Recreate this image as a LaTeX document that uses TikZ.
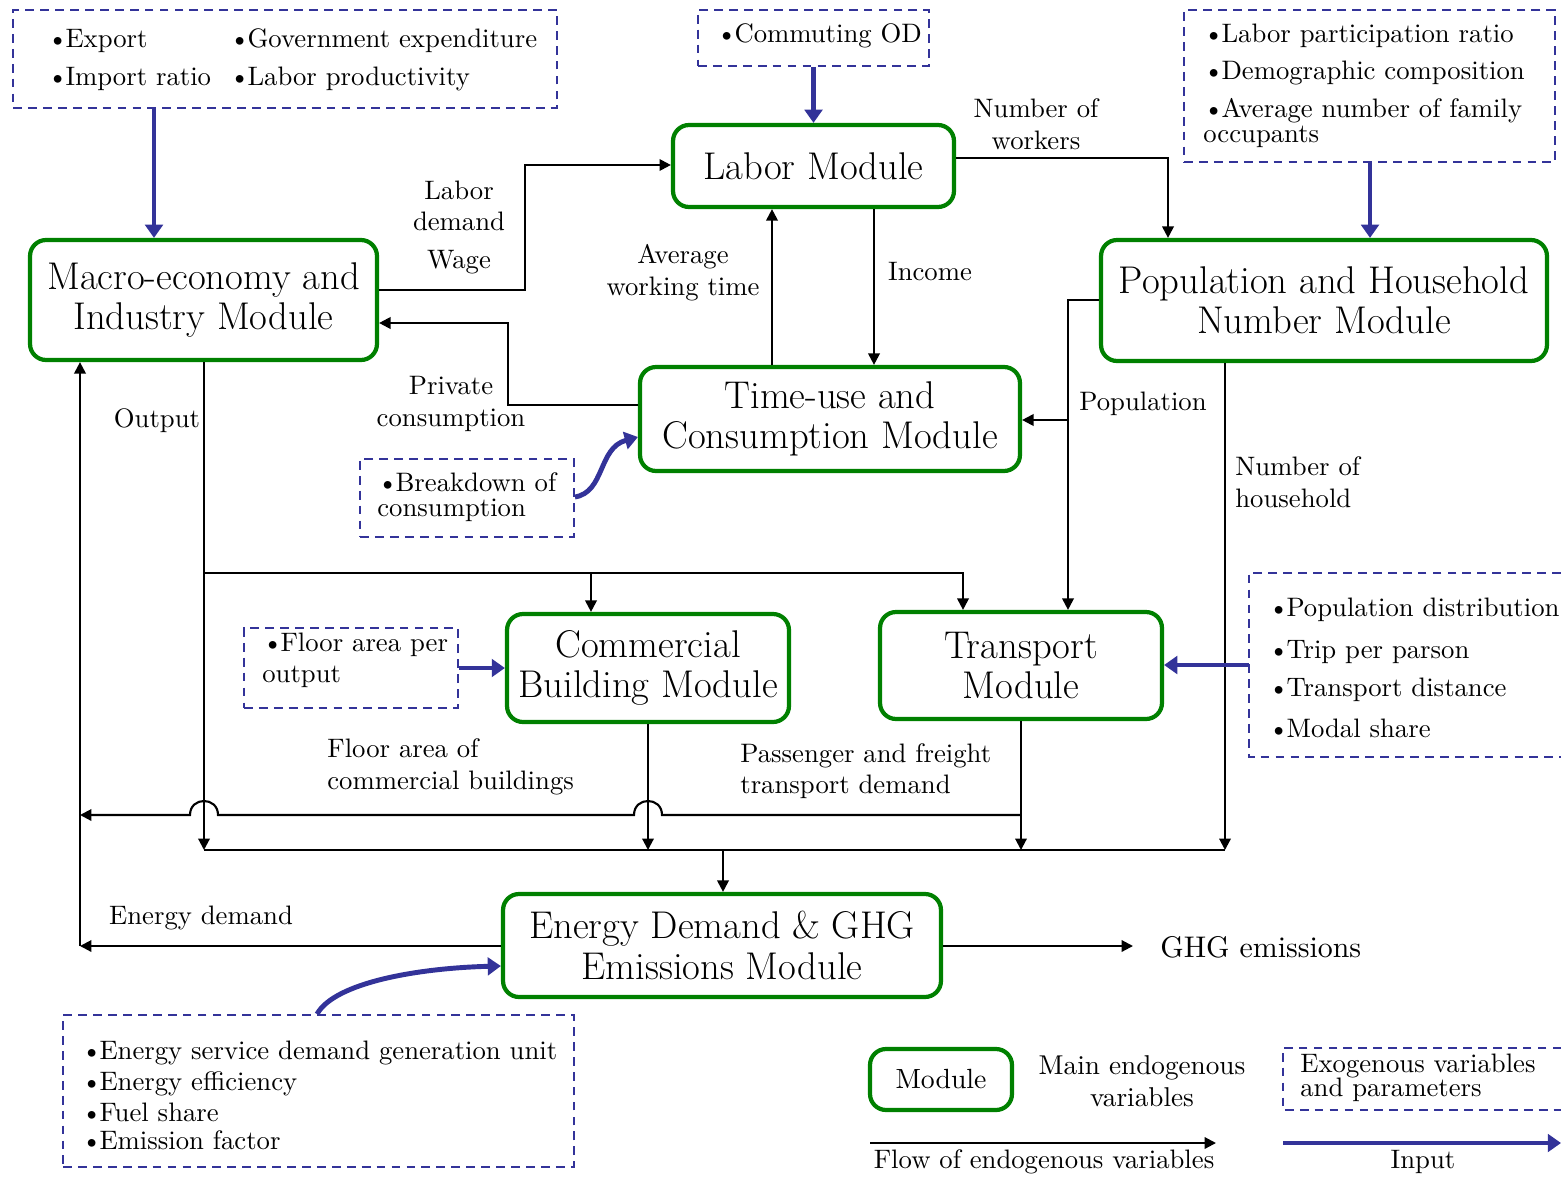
\documentclass[tikz,border=0pt]{standalone}
\usepackage{fontspec}
\newfontfamily\lblfont{lmroman10-regular}[Extension=.otf]
\newcommand\bul{\textbullet\kern-1.5pt}
\usetikzlibrary{arrows.meta,calc}
\definecolor{modgreen}{RGB}{0,128,0}
\definecolor{inblue}{RGB}{51,51,153}
\tikzset{
  module/.style={draw=modgreen, line width=2.4pt, rounded corners=0.32cm, align=center,
    font=\fontsize{22}{23}\selectfont, inner sep=0pt},
  exo/.style={draw=inblue, line width=1.1pt, dash pattern=on 5pt off 3.5pt, inner sep=0pt},
  exoopen/.style={draw=none, inner sep=0pt},
  exoline/.style={draw=inblue, line width=1.1pt, dash pattern=on 5pt off 3.5pt},
  lbl/.style={font=\lblfont\fontsize{15.2}{18}\selectfont, inner sep=0pt, align=center},
  bl/.style={lbl, anchor=west, align=left},
  tight/.style={bl, font=\lblfont\fontsize{15.2}{14}\selectfont},
  flow/.style={draw=black, line width=1.2pt, -{Triangle[length=6.5pt,width=6.5pt]}},
  plain/.style={draw=black, line width=1.2pt},
  inp/.style={draw=inblue, line width=2.8pt, -{Triangle[length=7.5pt,width=10pt]}}
}
\begin{document}
\begin{tikzpicture}[x=0.02cm,y=-0.02cm]
\useasboundingbox (0,0) rectangle (1561,1176);

% ---------- modules ----------
\node[module, minimum width=5.62cm, minimum height=1.64cm] (lab) at (813.5,166) {Labor Module};
\node[module, minimum width=6.94cm, minimum height=2.40cm] (mac) at (203.5,300) {Macro-economy and\\Industry Module};
\node[module, minimum width=8.92cm, minimum height=2.42cm] (pop) at (1324,300.5) {Population and Household\\Number Module};
\node[module, minimum width=7.60cm, minimum height=2.08cm] (tim) at (830,419) {Time-use and\\Consumption Module};
\node[module, minimum width=5.64cm, minimum height=2.16cm] (com) at (648,668) {Commercial\\Building Module};
\node[module, minimum width=5.64cm, minimum height=2.14cm] (tra) at (1021,665.5) {Transport\\Module};
\node[module, minimum width=8.76cm, minimum height=2.06cm] (ene) at (722,945.5) {Energy Demand \& GHG\\Emissions Module};

% ---------- exogenous boxes ----------
\node[exo, minimum width=10.88cm, minimum height=1.96cm] (tl) at (285,59) {};
\node[bl] (tl1) at (47,41) {\bul Export};
\node[bl] (tl2) at (229,41) {\bul Government expenditure};
\node[bl] (tl3) at (47,79) {\bul Import ratio};
\node[bl] (tl4) at (229,79) {\bul Labor productivity};

\node[exo, minimum width=4.62cm, minimum height=1.12cm] (cod) at (813.5,38) {};
\node[bl] (cod1) at (716,36) {\bul Commuting OD};

\node[exo, minimum width=7.42cm, minimum height=3.04cm] (tr) at (1369.5,86) {};
\node[bl] (tr1) at (1203,36) {\bul Labor participation ratio};
\node[bl] (tr2) at (1203,73) {\bul Demographic composition};
\node[tight] (tr3) at (1203,123) {\bul Average number of family\\occupants};

\node[exo, minimum width=4.28cm, minimum height=1.56cm] (bd) at (467,498) {};
\node[tight] (bd1) at (377,497) {\bul Breakdown of\\consumption};

\node[exo, minimum width=4.28cm, minimum height=1.60cm] (fl) at (351,668) {};
\node[bl] (fl1) at (262,645) {\bul Floor area per};
\node[bl] (fl2) at (262,677) {output};

\node[exoopen, minimum width=6.22cm, minimum height=3.68cm] (tin) at (1405,665) {};
\draw[exoline] (tin.north east) -- (tin.north west) -- (tin.south west) -- (tin.south east);
\node[bl] (tin1) at (1268,610) {\bul Population distribution};
\node[bl] (tin2) at (1268,652) {\bul Trip per parson};
\node[bl] (tin3) at (1268,690) {\bul Transport distance};
\node[bl] (tin4) at (1268,728) {\bul Modal share};

\node[exo, minimum width=10.22cm, minimum height=3.04cm] (ein) at (318.5,1091) {};
\node[bl] (ein1) at (81,1053) {\bul Energy service demand generation unit};
\node[bl] (ein2) at (81,1084) {\bul Energy efficiency};
\node[bl] (ein3) at (81,1112) {\bul Fuel share};
\node[bl] (ein4) at (81,1140) {\bul Emission factor};

% ---------- labels ----------
\node[lbl] (l1) at (459,206) {Labor\\demand};
\node[lbl] (l2) at (459,262) {Wage};
\node[lbl] (l3) at (451,404) {Private\\consumption};
\node[lbl] (l4) at (683,273) {Average\\working time};
\node[lbl] (l5) at (930,272) {Income};
\node[lbl] (l6) at (1036,124) {Number of\\workers};
\node[lbl] (l7) at (1143,404) {Population};
\node[bl] (l8) at (1235,482) {Number of\\household};
\node[lbl] (l9) at (157,421) {Output};
\node[bl] (l10) at (327,767) {Floor area of\\commercial buildings};
\node[bl] (l11) at (740,771) {Passenger and freight\\transport demand};
\node[lbl] (l12) at (201,918) {Energy demand};
\node[bl, font=\lblfont\fontsize{17}{20}\selectfont] (ghg) at (1160,947) {GHG emissions};

% ---------- coordinates ----------
\coordinate (jpop) at (1068,420);
\coordinate (jout) at (204,573);
\coordinate (jcom) at (591,573);
\coordinate (bA) at (204,850);
\coordinate (bB) at (648,850);
\coordinate (bC) at (1021,850);
\coordinate (bD) at (1225,850);
\coordinate (bE) at (723,850);
\coordinate (ced) at (80,946);
\coordinate (hopS) at (1021,815);
\coordinate (hopE) at (80,815);
\coordinate (ghgend) at (1133,946);

% ---------- black flows ----------
\draw[flow] (mac.east |- 0,290) -| (525,165) -- (lab.west |- 0,165);
\draw[flow] (tim.west |- 0,405) -| (508,323) -- (mac.east |- 0,323);
\draw[flow] (tim.north -| 772,0) -- (lab.south -| 772,0);
\draw[flow] (lab.south -| 874,0) -- (tim.north -| 874,0);
\draw[flow] (lab.east |- 0,158) -| (pop.north -| 1168,0);
\draw[flow] (pop.west |- 0,300) -| (tra.north -| 1068,0);
\draw[flow] (jpop) -- (tim.east |- 0,420);
\draw[flow] (pop.south -| 1225,0) -- (bD);
\draw[flow] (mac.south -| 204,0) -- (bA);
\draw[flow] (jout) -| (tra.north -| 963,0);
\draw[flow] (jcom) -- (com.north -| 591,0);
\draw[flow] (com.south) -- (bB);
\draw[flow] (tra.south) -- (bC);
\draw[plain] (bA) -- (bD);
\draw[flow] (bE) -- (ene.north -| 723,0);
\draw[flow] (hopS) -- (662,815) .. controls (662,796.3) and (634,796.3) .. (634,815)
  -- (218,815) .. controls (218,796.3) and (190,796.3) .. (190,815) -- (hopE);
\draw[flow] (ene.west |- 0,946) -- (ced);
\draw[flow] (ced) -- (mac.south -| 80,0);
\draw[flow] (ene.east |- 0,946) -- (ghgend);

% ---------- blue inputs ----------
\draw[inp] (tl.south -| 154,0) -- (mac.north -| 154,0);
\draw[inp] (cod.south) -- (lab.north);
\draw[inp] (tr.south -| 1370,0) -- (pop.north -| 1370,0);
\draw[inp] (bd.east |- 0,497) .. controls (605,492) and (598,448) .. (tim.west |- 0,437);
\draw[inp] (fl.east |- 0,668) -- (com.west |- 0,668);
\draw[inp] (tin.west |- 0,665) -- (tra.east |- 0,665);
\draw[inp] (ein.north -| 317,0) .. controls (335,982) and (420,968) .. (ene.west |- 0,966);

% ---------- legend ----------
\node[module, font=\lblfont\fontsize{15.8}{18}\selectfont, minimum width=2.84cm, minimum height=1.22cm] (lgm) at (941,1079.5) {Module};
\node[lbl, font=\lblfont\fontsize{15.5}{18}\selectfont] (lgv) at (1142,1081) {Main endogenous\\variables};
\node[exoopen, minimum width=5.56cm, minimum height=1.24cm] (lge) at (1422,1079) {};
\draw[exoline] (lge.north east) -- (lge.north west) -- (lge.south west) -- (lge.south east);
\node[tight] (lge1) at (1300,1078) {Exogenous variables\\and parameters};
\coordinate (lfa) at (870,1143);
\coordinate (lfb) at (1216,1143);
\draw[flow] (lfa) -- (lfb);
\node[lbl] (lft) at (1044,1162) {Flow of endogenous variables};
\coordinate (lia) at (1283,1143);
\coordinate (lib) at (1561,1143);
\draw[inp] (lia) -- (lib);
\node[lbl] (lit) at (1423,1162) {Input};
\end{tikzpicture}
\end{document}
